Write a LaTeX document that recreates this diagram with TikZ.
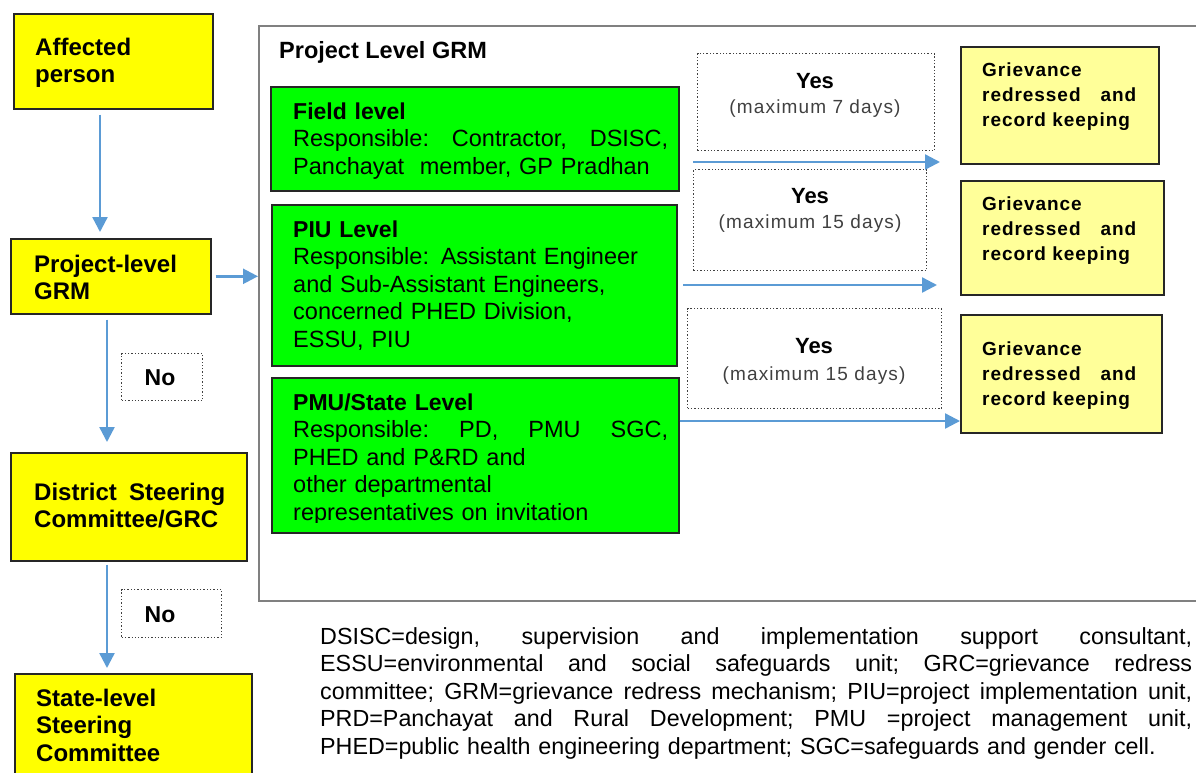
\documentclass[tikz,border=0pt]{standalone}
\usepackage{fontspec}
\setmainfont{Liberation Sans}
\newfontfamily\spacedfont[LetterSpace=5]{Liberation Sans}
\newfontfamily\maxfont[LetterSpace=6]{Liberation Sans}
\usetikzlibrary{arrows.meta}
\definecolor{ybright}{HTML}{FFFF00}
\definecolor{gbright}{HTML}{00FF00}
\definecolor{ylight}{HTML}{FFFF99}
\definecolor{arrowblue}{HTML}{5B9BD5}
\definecolor{framegray}{HTML}{808080}
\newcommand\jline[2]{{\frenchspacing\spaceskip=0pt\xspaceskip=0pt\makebox[#1][s]{#2}}}
\begin{document}
\begin{tikzpicture}[x=1pt,y=-1pt,
  box/.style={draw=black!85, line width=1.6pt, inner sep=0pt, anchor=north west},
  ybox/.style={box, fill=ybright},
  gbox/.style={box, fill=gbright},
  lbox/.style={box, fill=ylight},
  dbox/.style={draw=black!75, dotted, line width=1.3pt, inner sep=0pt, anchor=north west},
  flow/.style={draw=arrowblue, line width=2.4pt, -{Triangle[length=15pt,width=15pt]}},
  ltext/.style={anchor=base west, inner sep=0pt, text width=240pt, align=left, font=\fontsize{24}{27.5}\selectfont\bfseries},
  gtext/.style={anchor=base west, inner sep=0pt, text width=400pt, align=left, font=\fontsize{23.5}{27.5}\selectfont},
  rtext/.style={anchor=base west, inner sep=0pt, text width=190pt, align=left, font=\fontsize{19}{25}\selectfont\spacedfont\bfseries},
  yestext/.style={anchor=base, inner sep=0pt, font=\fontsize{22}{26}\selectfont\bfseries},
  maxtext/.style={anchor=base, inner sep=0pt, text=black!75, font=\fontsize{19}{23}\selectfont\maxfont},
  notext/.style={anchor=base, inner sep=0pt, font=\fontsize{23}{26}\selectfont\bfseries},
]
\useasboundingbox (0,0) rectangle (1196,772);

% left column
\node[ybox, minimum width=199pt, minimum height=95pt] (affected) at (13,13) {};
\node[ltext] (affectedT) at (35,55) {Affected\\person};
\node[ybox, minimum width=200pt, minimum height=75pt] (pgrm) at (10,238) {};
\node[ltext] (pgrmT) at (34,272) {Project-level\\GRM};
\node[ybox, minimum width=236pt, minimum height=108pt] (dsc) at (10,452) {};
\node[ltext] (dscT) at (34,500) {\jline{191pt}{District Steering}\\Committee/GRC};
\node[ybox, minimum width=237pt, minimum height=120pt] (ssc) at (14,673) {};
\node[ltext] (sscT) at (36,706) {State-level\\Steering\\Committee};

\node[dbox, minimum width=81pt, minimum height=47pt] (no1) at (121,353) {};
\node[notext] (no1T) at (160,385) {No};
\node[dbox, minimum width=100pt, minimum height=48pt] (no2) at (121,589) {};
\node[notext] (no2T) at (160,622) {No};

\draw[flow] ([xshift=87pt,yshift=-5pt]affected.south west) -- ([xshift=90pt,yshift=6pt]pgrm.north west);
\draw[flow] ([xshift=97pt,yshift=-5pt]pgrm.south west) -- ([xshift=97pt,yshift=10pt]dsc.north west);
\draw[flow] ([xshift=97pt,yshift=-3pt]dsc.south west) -- ([xshift=93pt,yshift=5pt]ssc.north west);

% project level frame
\node[draw=framegray, line width=1.5pt, inner sep=0pt, anchor=north west, minimum width=960pt, minimum height=575pt] (grm) at (258,25) {};
\node[anchor=base west, inner sep=0pt, font=\fontsize{23.5}{27}\selectfont\bfseries] (grmT) at (279,58) {Project Level GRM};
\draw[flow] ([xshift=4pt]pgrm.east) -- (pgrm.east -| grm.west);

% green boxes
\node[gbox, minimum width=408pt, minimum height=104pt] (field) at (270,86) {};
\node[gtext] (fieldT) at (293,119) {{\fontsize{23}{27}\selectfont\bfseries Field level}\\
  \jline{375pt}{Responsible: Contractor, DSISC,}\\
  Panchayat\ \ member, GP Pradhan};
\node[gbox, minimum width=405pt, minimum height=161pt] (piu) at (271,204) {};
\node[gtext] (piuT) at (293,237) {{\fontsize{23}{27}\selectfont\bfseries PIU Level}\\
  Responsible: Assistant Engineer\\
  and Sub-Assistant Engineers,\\
  concerned PHED Division,\\
  ESSU, PIU};
\node[gbox, minimum width=407pt, minimum height=155pt] (pmu) at (271,377) {};
\begin{scope}
\clip (271,377) rectangle (678,522);
\node[gtext] (pmuT) at (293,410) {{\fontsize{23}{27}\selectfont\bfseries PMU/State Level}\\
  \jline{375pt}{Responsible: PD, PMU SGC,}\\
  PHED and P\&RD and\\
  other departmental\\
  representatives on invitation};
\end{scope}

% yes boxes
\node[dbox, minimum width=237pt, minimum height=97pt] (yes1) at (697,53) {};
\node[yestext] (yes1T) at (815,88) {Yes};
\node[maxtext] (max1T) at (815,113) {(maximum 7 days)};
\node[dbox, minimum width=233pt, minimum height=101pt] (yes2) at (693,169) {};
\node[yestext] (yes2T) at (810,203) {Yes};
\node[maxtext] (max2T) at (810,228) {(maximum 15 days)};
\node[dbox, minimum width=254pt, minimum height=100pt] (yes3) at (687,308) {};
\node[yestext] (yes3T) at (814,353) {Yes};
\node[maxtext] (max3T) at (814,380) {(maximum 15 days)};

% result boxes
\node[lbox, minimum width=198pt, minimum height=117pt] (res1) at (960,46) {};
\node[rtext] (res1T) at (982,76) {Grievance\\\jline{154pt}{redressed and}\\record keeping};
\node[lbox, minimum width=203pt, minimum height=114pt] (res2) at (960,180) {};
\node[rtext] (res2T) at (982,210) {Grievance\\\jline{154pt}{redressed and}\\record keeping};
\node[lbox, minimum width=201pt, minimum height=118pt] (res3) at (960,314) {};
\node[rtext] (res3T) at (982,355) {Grievance\\\jline{154pt}{redressed and}\\record keeping};

% right arrows
\coordinate (a1s) at (693,162);
\coordinate (a1e) at (940,162);
\coordinate (a2s) at (683,285);
\coordinate (a2e) at (937,285);
\draw[flow] (a1s) -- (a1e);
\draw[flow] (a2s) -- (a2e);
\draw[flow] (pmu.east |- 0,421) -- (res3.west |- 0,421);

% footnote
\node[anchor=base west, inner sep=0pt, text width=872pt, align=left, font=\fontsize{23.3}{27.5}\selectfont] (note) at (320,644) {%
\jline{872pt}{DSISC=design, supervision and implementation support consultant,}\\
\jline{872pt}{ESSU=environmental and social safeguards unit; GRC=grievance redress}\\
\jline{872pt}{committee; GRM=grievance redress mechanism; PIU=project implementation unit,}\\
\jline{872pt}{PRD=Panchayat and Rural Development; PMU =project management unit,}\\
PHED=public health engineering department; SGC=safeguards and gender cell.};
\end{tikzpicture}
\end{document}
